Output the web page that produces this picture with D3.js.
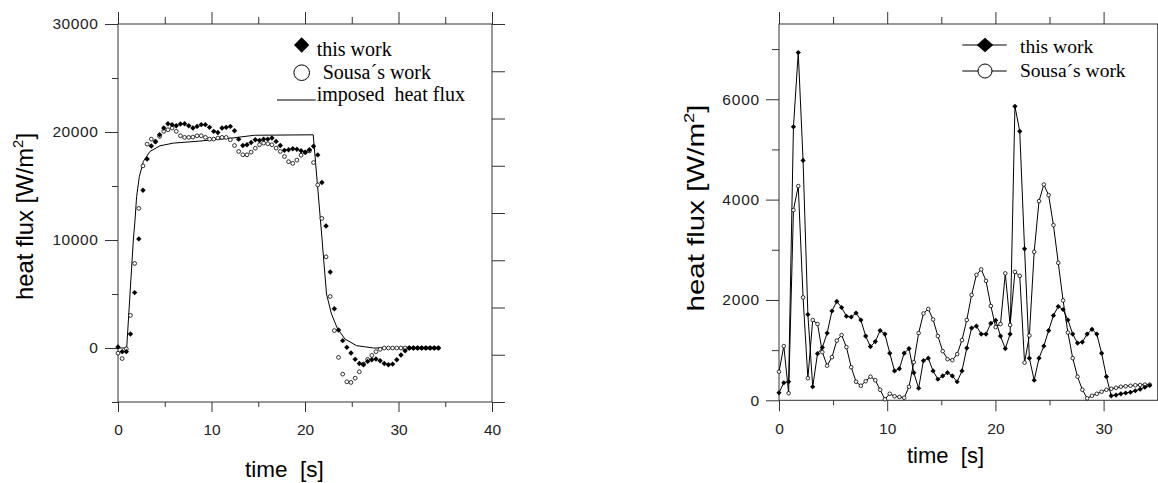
<!DOCTYPE html>
<html lang="en">
<head>
  <meta charset="UTF-8">
  <title>heat flux</title>
  <script src="https://d3js.org/d3.v7.min.js"></script>
  <style>
    body { margin: 0; background: #fff; }
    .tick line { stroke: #333; }
    .domain { display: none; }
  </style>
</head>
<body>
  <svg id="svg" width="1158" height="483"></svg>
  <script>
    // sampling step of both reconstructions [s]
    var dt = 0.445

    // left chart
    var leftThisWork = [100, -340, -340, 1300, 5130, 10100, 14600, 17500, 18700, 19100,
      19750, 20370, 20770, 20680, 20580, 20740, 20770, 20580, 20370, 20520,
      20680, 20680, 20430, 20060, 19960, 20370, 20430, 20520, 20120, 19340,
      18750, 18820, 19030, 19280, 19220, 19340, 19340, 19440, 19130, 18750,
      18300, 18350, 18450, 18400, 18260, 18140, 18350, 18680, 17880, 15330,
      11290, 7040, 3630, 1670, 680, 60, -465, -1050, -1430, -1550,
      -1240, -1085, -1020, -1180, -1430, -1550, -1490, -1085, -650, -250,
      0, 0, 0, 0, 0, 0, 0, 0]
    var leftSousa = [-480, -980, -80, 3020, 7830, 12930, 16860, 18880, 19340, 19130,
      19590, 20060, 20210, 20370, 20060, 19650, 19500, 19500, 19530, 19650,
      19650, 19500, 19340, 19340, 19440, 19500, 19500, 19280, 18750, 18200,
      17890, 17890, 18140, 18500, 18820, 18970, 18910, 18820, 18510, 18200,
      17730, 17250, 17100, 17400, 17850, 18100, 18250, 17170, 15100, 12000,
      8440, 4770, 1610, -870, -2420, -3130, -3190, -2790, -2200, -1490,
      -1050, -680, -340, -120, 0, 0, 0, 0, 0, 0,
      0, 0, 0, 0, 0, 0, 0, 0]
    var imposedTime = [0, 0.93, 1.64, 1.82, 1.99, 2.28, 2.71, 3.42, 4.49, 5.91, 8.76, 12.3, 14.6, 20.88, 21.83, 22.3, 22.83, 23.44, 24.26, 25.5, 27.3, 29]
    var imposedFlux = [0, 0, 10000, 11840, 14010, 15870, 17270, 18200, 18720, 18970, 19160, 19450, 19700, 19740, 10000, 5000, 3160, 1860, 840, 220, 0, 0]

    // right chart
    var rightThisWork = [150, 350, 370, 5450, 6930, 4780, 1710, 270, 930, 1050,
      1340, 1780, 1970, 1850, 1675, 1660, 1740, 1600, 1280, 1070,
      1170, 1390, 1320, 940, 585, 630, 940, 1030, 550, 240,
      790, 840, 585, 420, 485, 550, 485, 370, 585, 1040,
      1440, 1480, 1320, 1320, 1535, 1595, 1280, 1030, 1320, 5860,
      5360, 3020, 840, 400, 840, 1080, 1390, 1690, 1870, 1810,
      1600, 1320, 1140, 1160, 1320, 1415, 1320, 940, 470, 90,
      105, 130, 145, 160, 190, 220, 260, 295]
    var rightSousa = [570, 1080, 140, 3790, 4270, 2050, 440, 1600, 1520, 960,
      690, 860, 1190, 1300, 1060, 660, 370, 290, 380, 470,
      400, 210, 20, 130, 80, 66, 50, 270, 760, 1340,
      1730, 1820, 1610, 1280, 980, 820, 800, 920, 1200, 1600,
      2100, 2500, 2610, 2380, 1880, 1460, 1520, 2530, 1500, 2560,
      2480, 750, 1290, 2960, 3970, 4300, 4090, 3490, 2740, 1990,
      1350, 840, 470, 210, 40, 90, 130, 170, 210, 230,
      250, 270, 280, 290, 300, 305, 312, 312]

    var legendLeft = ['this work', 'Sousa\u00b4s work', 'imposed  heat flux']
    var legendRight = ['this work', 'Sousa\u00b4s work']

    var svg = d3.select('svg')
    var fmt = d3.format('d')

    function diamond(w, h) {
      return 'M0,' + (-h) + 'L' + w + ',0L0,' + h + 'L' + (-w) + ',0Z'
    }

    function frame(x, y) {
      svg.append('rect')
        .attr('x', x.range()[0]).attr('y', y.range()[1])
        .attr('width', x.range()[1] - x.range()[0])
        .attr('height', y.range()[0] - y.range()[1])
        .attr('fill', 'none').attr('stroke', '#333').attr('stroke-width', 1)
    }

    function addAxis(axis, tx, ty) {
      var g = svg.append('g').attr('transform', 'translate(' + tx + ',' + ty + ')').call(axis)
      g.attr('font-size', 15.5).attr('font-family', '"Liberation Sans", Arial, sans-serif')
      g.selectAll('text').attr('fill', '#222')
      return g
    }

    // ---------- left chart ----------
    var x1 = d3.scaleLinear().domain([0, 40]).range([118, 492])
    var y1 = d3.scaleLinear().domain([-5000, 30000]).range([402, 24])
    var y1r = d3.scaleLinear().domain([0, 8]).range([402, 24])

    frame(x1, y1)
    addAxis(d3.axisBottom(x1).tickValues([0, 10, 20, 30, 40]).tickSize(10).tickPadding(12).tickFormat(fmt), 0, 402)
    addAxis(d3.axisBottom(x1).tickValues([5, 15, 25, 35]).tickSize(5).tickFormat(''), 0, 402)
    addAxis(d3.axisTop(x1).tickValues([0, 10, 20, 30, 40]).tickSize(12).tickFormat(''), 0, 24)
    addAxis(d3.axisTop(x1).tickValues([5, 15, 25, 35]).tickSize(7).tickFormat(''), 0, 24)
    addAxis(d3.axisLeft(y1).tickValues([0, 10000, 20000, 30000]).tickSize(13).tickPadding(6.5).tickFormat(fmt), 118, 0)
      .selectAll('text').style('letter-spacing', '0.6px')
    addAxis(d3.axisLeft(y1).tickValues([-5000, 5000, 15000, 25000]).tickSize(6).tickFormat(''), 118, 0)
    addAxis(d3.axisRight(y1r).tickValues(d3.range(0, 9)).tickSize(13).tickFormat(''), 492, 0)

    var t1 = d3.range(leftThisWork.length).map(i => i * dt)

    svg.append('path')
      .datum(imposedTime.map((t, i) => [t, imposedFlux[i]]))
      .attr('fill', 'none').attr('stroke', '#000').attr('stroke-width', 1)
      .attr('d', d3.line().x(d => x1(d[0])).y(d => y1(d[1])))

    svg.append('g').selectAll('circle')
      .data(leftSousa)
      .enter()
      .append('circle')
      .attr('cx', (d, i) => x1(t1[i]))
      .attr('cy', d => y1(d))
      .attr('r', 1.9)
      .attr('fill', '#fff').attr('stroke', '#000').attr('stroke-width', 0.8)

    svg.append('g').selectAll('path')
      .data(leftThisWork)
      .enter()
      .append('path')
      .attr('transform', (d, i) => 'translate(' + x1(t1[i]) + ',' + y1(d) + ')')
      .attr('d', diamond(2.7, 2.7))
      .attr('fill', '#000')

    // legend
    var lg1 = svg.append('g').style('font-family', '"Liberation Serif", "Times New Roman", serif').style('font-size', '20px')
    lg1.append('path').attr('transform', 'translate(301.7,45)').attr('d', diamond(7.7, 7.7)).attr('fill', '#000')
    lg1.append('circle').attr('cx', 301.7).attr('cy', 72.7).attr('r', 7.8).attr('fill', '#fff').attr('stroke', '#000').attr('stroke-width', 1)
    lg1.append('line').attr('x1', 277).attr('x2', 315.7).attr('y1', 100).attr('y2', 100).attr('stroke', '#000')
    lg1.selectAll('text')
      .data(legendLeft)
      .enter()
      .append('text')
      .attr('x', (d, i) => i == 1 ? 322.7 : 316.7)
      .attr('y', (d, i) => [55.5, 79.3, 101][i])
      .attr('xml:space', 'preserve')
      .style('white-space', 'pre')
      .text(d => d)

    // axis titles
    var yl1 = svg.append('text')
      .attr('transform', 'translate(32.7,216.5) rotate(-90)')
      .attr('text-anchor', 'middle')
      .attr('textLength', 167)
      .attr('lengthAdjust', 'spacingAndGlyphs')
      .style('font-family', '"Liberation Sans", Arial, sans-serif').style('font-size', '24px')
    yl1.append('tspan').text('heat flux [W/m')
    yl1.append('tspan').attr('dy', -10).style('font-size', '15px').text('2')
    yl1.append('tspan').attr('dy', 10).text(']')

    svg.append('text')
      .attr('x', 245).attr('y', 477)
      .attr('xml:space', 'preserve').style('white-space', 'pre')
      .style('font-family', '"Liberation Sans", Arial, sans-serif').style('font-size', '22.5px')
      .text('time  [s]')

    // ---------- right chart ----------
    var x2 = d3.scaleLinear().domain([0, 35]).range([779, 1157.7])
    var y2 = d3.scaleLinear().domain([0, 7500]).range([400.3, 24])

    frame(x2, y2)
    addAxis(d3.axisBottom(x2).tickValues([0, 10, 20, 30]).tickSize(11).tickPadding(12).tickFormat(fmt), 0, 400.3)
    addAxis(d3.axisBottom(x2).tickValues([5, 15, 25]).tickSize(5).tickFormat(''), 0, 400.3)
    addAxis(d3.axisTop(x2).tickValues([0, 10, 20, 30]).tickSize(12).tickFormat(''), 0, 24)
    addAxis(d3.axisTop(x2).tickValues([5, 15, 25]).tickSize(7).tickFormat(''), 0, 24)
    addAxis(d3.axisLeft(y2).tickValues([0, 2000, 4000, 6000]).tickSize(13).tickPadding(6).tickFormat(fmt), 779, 0)
      .selectAll('text').style('letter-spacing', '0.8px')
    addAxis(d3.axisLeft(y2).tickValues([1000, 3000, 5000, 7000]).tickSize(7).tickFormat(''), 779, 0)

    var t2 = d3.range(rightThisWork.length).map(i => i * dt)
    var line2 = d3.line().x((d, i) => x2(t2[i])).y(d => y2(d))

    ;[rightSousa, rightThisWork].forEach(function (s) {
      svg.append('path').datum(s)
        .attr('fill', 'none').attr('stroke', '#000').attr('stroke-width', 1)
        .attr('d', line2)
    })

    svg.append('g').selectAll('circle')
      .data(rightSousa)
      .enter()
      .append('circle')
      .attr('cx', (d, i) => x2(t2[i]))
      .attr('cy', d => y2(d))
      .attr('r', 1.8)
      .attr('fill', '#fff').attr('stroke', '#000').attr('stroke-width', 0.8)

    svg.append('g').selectAll('path')
      .data(rightThisWork)
      .enter()
      .append('path')
      .attr('transform', (d, i) => 'translate(' + x2(t2[i]) + ',' + y2(d) + ')')
      .attr('d', diamond(2.6, 2.6))
      .attr('fill', '#000')

    var lg2 = svg.append('g').style('font-family', '"Liberation Serif", "Times New Roman", serif').style('font-size', '19.5px')
    ;[45, 71].forEach(function (yy) {
      lg2.append('line').attr('x1', 962.3).attr('x2', 1006.7).attr('y1', yy).attr('y2', yy).attr('stroke', '#000')
    })
    lg2.append('path').attr('transform', 'translate(985,45)').attr('d', diamond(8.3, 7.2)).attr('fill', '#000')
    lg2.append('circle').attr('cx', 985).attr('cy', 71).attr('r', 7).attr('fill', '#fff').attr('stroke', '#000').attr('stroke-width', 1)
    lg2.selectAll('text')
      .data(legendRight)
      .enter()
      .append('text')
      .attr('x', 1020)
      .attr('y', (d, i) => [53.3, 77.3][i])
      .text(d => d)

    var yl2 = svg.append('text')
      .attr('transform', 'translate(704,208) rotate(-90)')
      .attr('text-anchor', 'middle')
      .attr('textLength', 207)
      .attr('lengthAdjust', 'spacingAndGlyphs')
      .style('font-family', '"Liberation Sans", Arial, sans-serif').style('font-size', '24px')
    yl2.append('tspan').text('heat flux [W/m')
    yl2.append('tspan').attr('dy', -10).style('font-size', '15px').text('2')
    yl2.append('tspan').attr('dy', 10).text(']')

    svg.append('text')
      .attr('x', 907).attr('y', 463)
      .attr('xml:space', 'preserve').style('white-space', 'pre')
      .style('font-family', '"Liberation Sans", Arial, sans-serif').style('font-size', '22px')
      .text('time  [s]')
  </script>
</body>
</html>
